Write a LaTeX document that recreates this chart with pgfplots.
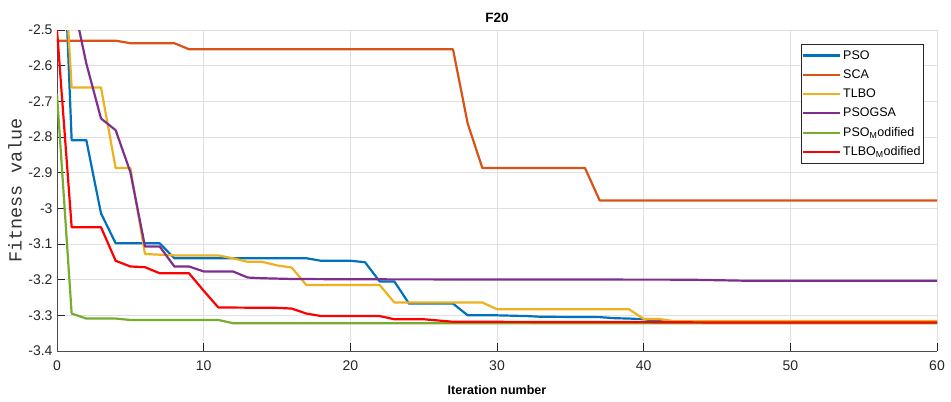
\documentclass[border=0pt]{standalone}
\usepackage{pgfplots}
\pgfplotsset{compat=1.18}
\usepackage{fontspec}
\setmainfont{Liberation Sans}
\newfontfamily\lblmono{Liberation Mono}
\definecolor{cPSO}{rgb}{0,0.447,0.741}
\definecolor{cSCA}{rgb}{0.85,0.325,0.098}
\definecolor{cTLBO}{rgb}{0.929,0.694,0.125}
\definecolor{cGSA}{rgb}{0.494,0.184,0.556}
\definecolor{cPSOM}{rgb}{0.466,0.674,0.188}
\definecolor{cTLBOM}{rgb}{1,0,0}
\begin{document}
\begin{tikzpicture}
\begin{axis}[
  name=ax,
  scale only axis,
  width=880pt, height=321pt,
  xmin=0, xmax=60, ymin=-3.4, ymax=-2.5,
  xtick={0,10,...,60},
  ytick={-3.4,-3.3,-3.2,-3.1,-3,-2.9,-2.8,-2.7,-2.6,-2.5},
  yticklabels={-3.4,-3.3,-3.2,-3.1,-3,-2.9,-2.8,-2.7,-2.6,-2.5},
  /pgf/number format/assume math mode=true,
  tick label style={font=\fontsize{14}{16}\selectfont, color=black!85},
  xticklabel style={yshift=-6pt},
  yticklabel style={xshift=-1pt},
  grid=major,
  major grid style={draw=black!12, line width=0.7pt},
  axis x line*=bottom, axis y line*=left,
  axis line style={draw=black!70, line width=0.8pt},
  tick style={draw=black!85, line width=0.8pt},
  tick align=inside,
  major tick length=8pt,
  every axis title shift=0pt,
  title={\bfseries F20},
  title style={at={(axis description cs:0.5,1.038)}, anchor=center, font=\fontsize{13.5}{15}\selectfont},
  xlabel={\bfseries Iteration number},
  xlabel style={at={(axis description cs:0.5,-0.121)}, anchor=center, font=\fontsize{12.5}{14}\selectfont},
  ylabel={Fitness value},
  ylabel style={at={(axis description cs:-0.0477,0.5)}, anchor=center, color=black!80, font=\lblmono\fontsize{18.5}{21}\selectfont},
  legend style={at={(axis description cs:0.985,0.956)}, anchor=north east,
    font=\fontsize{12.5}{14}\selectfont, draw=black!85, line width=0.6pt,
    row sep=5pt, inner xsep=1pt, inner ysep=4pt, fill=white,
    nodes={inner xsep=2pt}},
  legend cell align=left,
  legend image post style={line width=2.2pt},
  legend image code/.code={\draw[#1] (0cm,0cm) -- (1.3cm,0cm);},
  every axis plot/.append style={line width=2.2pt, line join=round},
  clip=true,
]
\addplot[cPSO] coordinates {
(0,-1.78) (1,-2.809) (2,-2.809) (3,-3.014) (4,-3.098) (7,-3.098) (8,-3.140) (17,-3.140)
(18,-3.147) (20,-3.147) (21,-3.151) (22,-3.205) (23,-3.205) (24,-3.267) (27,-3.267)
(28,-3.300) (30,-3.300) (31,-3.301) (32,-3.302) (33,-3.304) (37,-3.305) (38,-3.308)
(39,-3.309) (40,-3.311) (41,-3.316) (42,-3.318) (60,-3.318)};
\addlegendentry{PSO}
\addplot[cSCA] coordinates {
(0,-2.530) (4,-2.530) (5,-2.537) (8,-2.537) (9,-2.554) (27,-2.554) (28,-2.762)
(29,-2.887) (36,-2.887) (37,-2.978) (60,-2.978)};
\addlegendentry{SCA}
\addplot[cTLBO] coordinates {
(0,-1.96) (1,-2.661) (3,-2.661) (4,-2.887) (5,-2.887) (6,-3.128) (7,-3.130) (8,-3.132)
(11,-3.132) (12,-3.140) (13,-3.150) (14,-3.150) (15,-3.160) (16,-3.166) (17,-3.215)
(22,-3.215) (23,-3.264) (29,-3.264) (30,-3.283) (39,-3.283) (40,-3.310) (41,-3.310)
(42,-3.316) (60,-3.316)};
\addlegendentry{TLBO}
\addplot[cGSA] coordinates {
(0,-2.10) (1,-2.40) (2,-2.594) (3,-2.748) (4,-2.781) (5,-2.898) (6,-3.107) (7,-3.107)
(8,-3.163) (9,-3.163) (10,-3.177) (12,-3.177) (13,-3.194) (14,-3.196) (16,-3.198)
(20,-3.199) (43,-3.200) (47,-3.203) (60,-3.203)};
\addlegendentry{PSOGSA}
\addplot[cPSOM] coordinates {
(0,-2.680) (1,-3.295) (2,-3.309) (4,-3.309) (5,-3.313) (11,-3.313) (12,-3.322) (60,-3.322)};
\addlegendentry{PSO\textsubscript{M}odified}
\addplot[cTLBOM] coordinates {
(0,-2.50) (1,-3.053) (3,-3.053) (4,-3.147) (5,-3.163) (6,-3.165) (7,-3.182) (9,-3.182)
(10,-3.231) (11,-3.278) (15,-3.279) (16,-3.281) (17,-3.295) (18,-3.302) (22,-3.302)
(23,-3.311) (25,-3.311) (27,-3.318) (40,-3.319) (45,-3.320) (60,-3.320)};
\addlegendentry{TLBO\textsubscript{M}odified}
\end{axis}
\pgfresetboundingbox
\path[use as bounding box] ([shift={(-57pt,-50pt)}]ax.south west) rectangle ([shift={(14pt,30pt)}]ax.north east);
\end{tikzpicture}
\end{document}
